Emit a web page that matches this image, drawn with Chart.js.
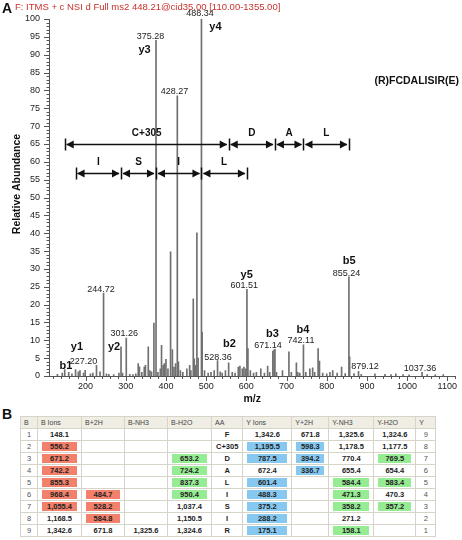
<!DOCTYPE html>
<html>
<head>
<meta charset="utf-8">
<script src="https://cdn.jsdelivr.net/npm/chart.js@4.4.1/dist/chart.umd.min.js"></script>
<style>
  body { margin: 0; background: #fff; font-family: "Liberation Sans", Arial, sans-serif; }
  #page { position: relative; width: 462px; height: 540px; overflow: hidden; }
  #plot { position: absolute; left: 0; top: 0; width: 462px; height: 406px; }
  .panel { position: absolute; font-weight: bold; font-size: 14px; color: #111; }
  #scanInfo { position: absolute; left: 15px; top: 1px; font-size: 9.5px; color: #c8322c; white-space: nowrap; }
  #peptide { position: absolute; right: 3px; top: 74px; font-size: 10.5px; font-weight: bold; color: #111; }
  #ions { position: absolute; left: 20px; top: 416px; border-collapse: collapse; table-layout: fixed; font-size: 7.5px; }
  #ions th, #ions td { border: 1px solid #d6d3c8; padding: 0; text-align: center; overflow: hidden; white-space: nowrap; }
  #ions th { height: 11px; background: #efede4; color: #444; font-weight: normal; font-size: 7px; text-align: left; padding-left: 3px; }
  #ions td { height: 11px; font-weight: bold; color: #222; }
  #ions td.idx { font-weight: normal; color: #555; }
  #ions td div { margin: 0 4px; height: 9px; line-height: 9px; }
  .red { background: #f2806a; }
  .green { background: #96ec92; }
  .blue { background: #86c8f0; }
</style>
</head>
<body>
<div id="page">
  <div id="plot"><canvas id="spectrum"></canvas></div>
  <div class="panel" style="left:2px;top:0px;">A</div>
  <div id="scanInfo">F: ITMS + c NSI d Full ms2 448.21@cid35.00 [110.00-1355.00]</div>
  <div id="peptide">(R)FCDALISIR(E)</div>
  <div class="panel" style="left:2px;top:406px;">B</div>
  <table id="ions"></table>
</div>
<script>
// MS2 peaks (m/z, relative abundance)
const peakMz = [130, 142, 148.1, 158, 166, 175.1, 182, 186, 195, 199, 212, 218, 227.2, 236, 244.72, 252, 258, 270, 283, 288.2, 292, 301.26, 310, 318, 325,
  331, 334, 340, 346, 349, 356, 360, 364, 370, 375.28, 380, 386, 389, 393, 396, 400, 405, 411.5, 416, 420, 424, 428.27, 431, 436, 442,
  452, 459, 462, 468, 470.5, 474, 477, 480, 488.34, 490, 496, 505,
  512, 520, 528.36, 535, 540, 548, 556, 565, 572, 580, 584, 590, 594, 598, 601.51, 604, 610, 618, 625, 636, 645, 653, 658, 666, 669, 671.14, 675, 690,
  706, 712, 724.5, 728, 733, 742.11, 748, 758, 765, 770, 778.6, 782, 790, 800, 808, 815, 826, 837, 846, 855.24, 857, 868, 879.12, 886,
  920, 945, 960, 972, 990, 1005, 1037.36, 1050, 1070, 1090];
const peakAbundance = [0.5, 0.8, 1.8, 1.0, 0.6, 1.8, 1.2, 1.5, 0.8, 1.6, 0.6, 0.8, 3.0, 1.2, 23.2, 0.6, 0.5, 0.4, 0.8, 8.2, 0.8, 10.6, 0.5, 0.4, 0.6,
  3.5, 2.6, 1.0, 2.5, 3.0, 8.2, 1.5, 1.2, 14.8, 94, 1.0, 2.0, 8.6, 3.0, 3.5, 4.7, 2.0, 34.8, 7.4, 2.5, 3.5, 78.5, 4.0, 1.5, 1.0,
  2.0, 3.0, 1.5, 21.6, 4.8, 3.0, 40.1, 5.0, 100, 12.3, 1.5, 0.8,
  1.0, 1.5, 4.3, 1.2, 0.8, 1.5, 3.7, 1.0, 0.8, 2.5, 2.8, 2.0, 2.5, 2.0, 24.3, 7.7, 1.5, 0.8, 1.0, 2.0, 0.8, 2.8, 1.0, 7.0, 7.3, 7.5, 1.0, 1.5,
  6.8, 1.0, 3.7, 1.0, 0.8, 8.7, 1.0, 2.0, 2.3, 1.0, 7.7, 4.2, 0.8, 0.6, 1.0, 1.5, 0.8, 2.5, 0.7, 27.8, 5.4, 0.7, 1.3, 0.5,
  0.6, 0.5, 0.4, 0.6, 0.4, 0.3, 1.0, 0.4, 0.3, 0.4];

// annotated peak m/z values and ion names
const mzLabels = ["227.20", "244.72", "301.26", "375.28", "428.27", "488.34", "528.36", "601.51", "671.14", "742.11", "855.24", "879.12", "1037.36"];
const ionNames = ["b1", "y1", "y2", "y3", "y4", "b2", "y5", "b3", "b4", "b5"];

// sequence ladders
const bIonBounds = [148.1, 556.2, 671.2, 742.2, 855.3];
const bIonResidues = ["C+305", "D", "A", "L"];
const yIonBounds = [175.1, 288.2, 375.2, 488.3, 601.4];
const yIonResidues = ["I", "S", "I", "L"];

// fragment table
const tableHeaders = ["B", "B Ions", "B+2H", "B-NH3", "B-H2O", "AA", "Y Ions", "Y+2H", "Y-NH3", "Y-H2O", "Y"];
const bIndex = ["1", "2", "3", "4", "5", "6", "7", "8", "9"];
const bIons = ["148.1", "556.2", "671.2", "742.2", "855.3", "968.4", "1,055.4", "1,168.5", "1,342.6"];
const bPlus2H = ["", "", "", "", "", "484.7", "528.2", "584.8", "671.8"];
const bMinusNH3 = ["", "", "", "", "", "", "", "", "1,325.6"];
const bMinusH2O = ["", "", "653.2", "724.2", "837.3", "950.4", "1,037.4", "1,150.5", "1,324.6"];
const aminoAcids = ["F", "C+305", "D", "A", "L", "I", "S", "I", "R"];
const yIons = ["1,342.6", "1,195.5", "787.5", "672.4", "601.4", "488.3", "375.2", "288.2", "175.1"];
const yPlus2H = ["671.8", "598.3", "394.2", "336.7", "", "", "", "", ""];
const yMinusNH3 = ["1,325.6", "1,178.5", "770.4", "655.4", "584.4", "471.3", "358.2", "271.2", "158.1"];
const yMinusH2O = ["1,324.6", "1,177.5", "769.5", "654.4", "583.4", "470.3", "357.2", "", ""];
const yIndex = ["9", "8", "7", "6", "5", "4", "3", "2", "1"];
// which cells are matched (r = red, g = green, b = blue)
const matchMarks = [
  "..........",
  ".r....bb...",
  ".r..g.bb.g.",
  ".r..g..b...",
  ".r..g.b.gg.",
  ".rr.g.b.g..",
  ".rr...b.gg.",
  "..r...b....",
  "......b.g.."
];

// label placement (m/z, abundance) for the text over the peaks
const mzLabelPos = [[195, 4], [238.5, 24.3], [296, 11.8], [361.5, 95.2], [421, 79.6], [484.5, 101.6], [529.5, 5.2], [595, 25.3], [654, 8.4], [736, 9.8], [849, 28.8], [895, 2.6], [1032, 2.2]];
const ionNamePos = [[151, 2.8], [178.6, 8], [271, 8], [346.7, 91.3], [523, 97.8], [558, 9], [600.8, 28.3], [664.7, 11.8], [741, 12.9], [855.7, 32.2]];

function buildTable() {
  const cols = [bIndex, bIons, bPlus2H, bMinusNH3, bMinusH2O, aminoAcids, yIons, yPlus2H, yMinusNH3, yMinusH2O, yIndex];
  const widths = [17, 44, 43, 43, 44, 27, 49, 37, 45, 42, 20];
  const table = document.getElementById("ions");
  let html = "<colgroup>" + widths.map(w => `<col style="width:${w}px">`).join("") + "</colgroup>";
  html += "<tr>" + tableHeaders.map(h => `<th>${h}</th>`).join("") + "</tr>";
  for (let r = 0; r < bIndex.length; r++) {
    html += "<tr>";
    cols.forEach((col, c) => {
      const mark = matchMarks[r][c];
      const cls = mark === "r" ? "red" : mark === "g" ? "green" : mark === "b" ? "blue" : "";
      const isIdx = c === 0 || c === 10;
      html += `<td class="${isIdx ? "idx" : ""}"><div class="${cls}">${col[r]}</div></td>`;
    });
    html += "</tr>";
  }
  table.innerHTML = html;
}
buildTable();

const spectrumDecor = {
  id: "spectrumDecor",
  afterDatasetsDraw(chart) {
    const { ctx, scales: { x, y }, chartArea } = chart;
    ctx.save();

    // minor / major tick marks
    ctx.strokeStyle = "#555";
    ctx.lineWidth = 1;
    ctx.beginPath();
    for (let v = 0; v <= 100; v++) {
      const py = Math.round(y.getPixelForValue(v)) + 0.5;
      const len = v % 5 === 0 ? 5 : 2.5;
      ctx.moveTo(chartArea.left - len, py);
      ctx.lineTo(chartArea.left, py);
    }
    for (let v = 120; v <= 1120; v += 20) {
      const px = Math.round(x.getPixelForValue(v)) + 0.5;
      const len = v % 100 === 0 ? 5 : 3;
      ctx.moveTo(px, chartArea.bottom);
      ctx.lineTo(px, chartArea.bottom + len);
    }
    ctx.stroke();

    // peak m/z labels
    ctx.fillStyle = "#222";
    ctx.textAlign = "center";
    ctx.textBaseline = "middle";
    ctx.font = "9px 'Liberation Sans', Arial, sans-serif";
    mzLabels.forEach((t, i) => {
      ctx.fillText(t, x.getPixelForValue(mzLabelPos[i][0]), y.getPixelForValue(mzLabelPos[i][1]));
    });
    ctx.font = "bold 11px 'Liberation Sans', Arial, sans-serif";
    ctx.fillStyle = "#111";
    ionNames.forEach((t, i) => {
      ctx.fillText(t, x.getPixelForValue(ionNamePos[i][0]), y.getPixelForValue(ionNamePos[i][1]));
    });

    // sequence ladders
    drawLadder(ctx, x, y, bIonBounds, bIonResidues, 65);
    drawLadder(ctx, x, y, yIonBounds, yIonResidues, 57);

    // y axis title
    ctx.save();
    ctx.translate(17, 184);
    ctx.rotate(-Math.PI / 2);
    ctx.font = "bold 10.5px 'Liberation Sans', Arial, sans-serif";
    ctx.fillStyle = "#111";
    ctx.fillText("Relative Abundance", 0, 0);
    ctx.restore();

    ctx.restore();
  }
};

function drawLadder(ctx, x, y, bounds, names, level) {
  const py = Math.round(y.getPixelForValue(level)) + 0.5;
  ctx.strokeStyle = "#111";
  ctx.fillStyle = "#111";
  ctx.lineWidth = 1.5;
  for (let i = 0; i < names.length; i++) {
    const x1 = x.getPixelForValue(bounds[i]);
    const x2 = x.getPixelForValue(bounds[i + 1]);
    ctx.beginPath();
    ctx.moveTo(x1 + 2, py);
    ctx.lineTo(x2 - 2, py);
    ctx.stroke();
    // heads
    ctx.beginPath();
    ctx.moveTo(x1 + 1.5, py);
    ctx.lineTo(x1 + 9, py - 4);
    ctx.lineTo(x1 + 9, py + 4);
    ctx.closePath();
    ctx.moveTo(x2 - 1.5, py);
    ctx.lineTo(x2 - 9, py - 4);
    ctx.lineTo(x2 - 9, py + 4);
    ctx.closePath();
    ctx.fill();
    ctx.font = "bold 10px 'Liberation Sans', Arial, sans-serif";
    ctx.fillText(names[i], (x1 + x2) / 2, py - 11);
  }
  ctx.beginPath();
  bounds.forEach(b => {
    const px = Math.round(x.getPixelForValue(b)) + 0.5;
    ctx.moveTo(px, py - 6);
    ctx.lineTo(px, py + 6);
  });
  ctx.stroke();
}

new Chart(document.getElementById("spectrum"), {
  type: "bar",
  data: {
    datasets: [{
      data: peakMz.map((m, i) => ({ x: m, y: peakAbundance[i] })),
      backgroundColor: "#707070",
      barThickness: 1,
      borderWidth: 0
    }]
  },
  options: {
    responsive: true,
    maintainAspectRatio: false,
    animation: false,
    layout: { padding: { top: 19, right: 2, left: 0, bottom: 0 } },
    plugins: { legend: { display: false }, tooltip: { enabled: false } },
    scales: {
      x: {
        type: "linear",
        min: 109,
        max: 1120,
        offset: false,
        grid: { display: false, drawTicks: false },
        border: { display: true, color: "#555" },
        ticks: {
          stepSize: 100,
          includeBounds: false,
          autoSkip: false,
          maxRotation: 0,
          padding: 5,
          color: "#222",
          font: { family: "'Liberation Sans', Arial, sans-serif", size: 9 },
          callback: v => (v % 100 === 0 && v >= 200 ? v : "")
        },
        title: {
          display: true,
          text: "m/z",
          color: "#111",
          font: { family: "'Liberation Sans', Arial, sans-serif", size: 10.5, weight: "bold" },
          padding: { top: 0, bottom: 1 }
        },
        afterFit(scale) { scale.height = 30; }
      },
      y: {
        min: 0,
        max: 100,
        grid: { display: false, drawTicks: false },
        border: { display: true, color: "#555" },
        ticks: {
          stepSize: 5,
          autoSkip: false,
          padding: 9,
          color: "#222",
          font: { family: "'Liberation Sans', Arial, sans-serif", size: 9 }
        },
        afterFit(scale) { scale.width = 49; }
      }
    }
  },
  plugins: [spectrumDecor]
});
</script>
</body>
</html>
